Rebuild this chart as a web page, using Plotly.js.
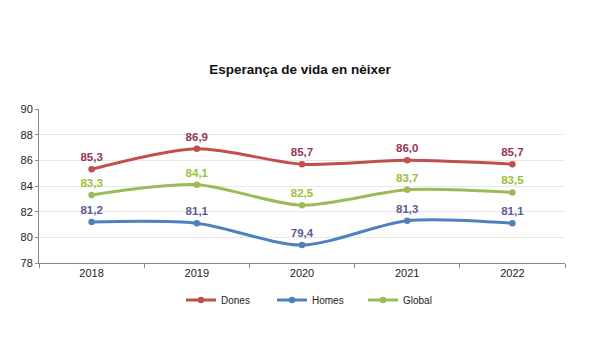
<!DOCTYPE html>
<html><head><meta charset="utf-8">
<script src="https://cdn.plot.ly/plotly-3.0.1.min.js"></script>
<style>html,body{margin:0;padding:0;background:#fff}#chart{width:600px;height:347px}</style>
</head><body><div id="chart"></div>
<script>
const years = ['2018','2019','2020','2021','2022'];
const dones = [85.3, 86.9, 85.7, 86.0, 85.7];
const homes = [81.2, 81.1, 79.4, 81.3, 81.1];
const global = [83.3, 84.1, 82.5, 83.7, 83.5];
const yTicks = [78, 80, 82, 84, 86, 88, 90];

function tr(name, ys, lineColor, textColor){
  return {
    x: years, y: ys, name: name, type: 'scatter', mode: 'lines+markers+text',
    line: {color: lineColor, width: 3, shape: 'spline', smoothing: 0.8},
    marker: {color: lineColor, size: 6.5},
    text: ys.map(v => v.toFixed(1).replace('.', ',')),
    textposition: 'top center',
    textfont: {family: 'Liberation Sans, Arial, sans-serif', size: 11.5, color: textColor, weight: 'bold'},
    cliponaxis: false, hoverinfo: 'skip'
  };
}
const data = [
  tr('Dones', dones, '#C0504D', '#953458'),
  tr('Homes', homes, '#4F81BD', '#5B5A96'),
  tr('Global', global, '#9BBB59', '#99C13A')
];
const layout = {
  width: 600, height: 347,
  margin: {l: 39, r: 35, t: 109, b: 84, autoexpand: false},
  paper_bgcolor: '#fff', plot_bgcolor: '#fff',
  font: {family: 'Liberation Sans, Arial, sans-serif', size: 11, color: '#222'},
  title: {text: '<b>Esperança de vida en nèixer</b>', x: 0.5, xanchor: 'center', y: 1 - 69/347, yanchor: 'middle',
          font: {family: 'Liberation Sans, Arial, sans-serif', size: 13.5, color: '#111'}},
  xaxis: {type: 'category', tickson: 'boundaries', ticks: 'outside', ticklen: 4, tickcolor: '#888',
          showline: true, linecolor: '#888', linewidth: 1, showgrid: false, zeroline: false,
          range: [-0.5, 4.5], tickfont: {size: 11, color: '#222'}},
  yaxis: {range: [78, 90], tickvals: yTicks, ticks: 'outside', ticklen: 3, tickcolor: '#888',
          showline: true, linecolor: '#888', linewidth: 1, gridcolor: '#E8E8E8', zeroline: false,
          tickfont: {size: 11, color: '#222'}},
  showlegend: true,
  legend: {orientation: 'h', x: (181 - 39) / 526, xanchor: 'left', y: -0.24, yanchor: 'middle',
           font: {size: 10, color: '#222'}, entrywidth: 46, entrywidthmode: 'pixels', tracegroupgap: 0},
  separators: ',.'
};
Plotly.newPlot('chart', data, layout, {staticPlot: true, displayModeBar: false});
</script></body></html>
